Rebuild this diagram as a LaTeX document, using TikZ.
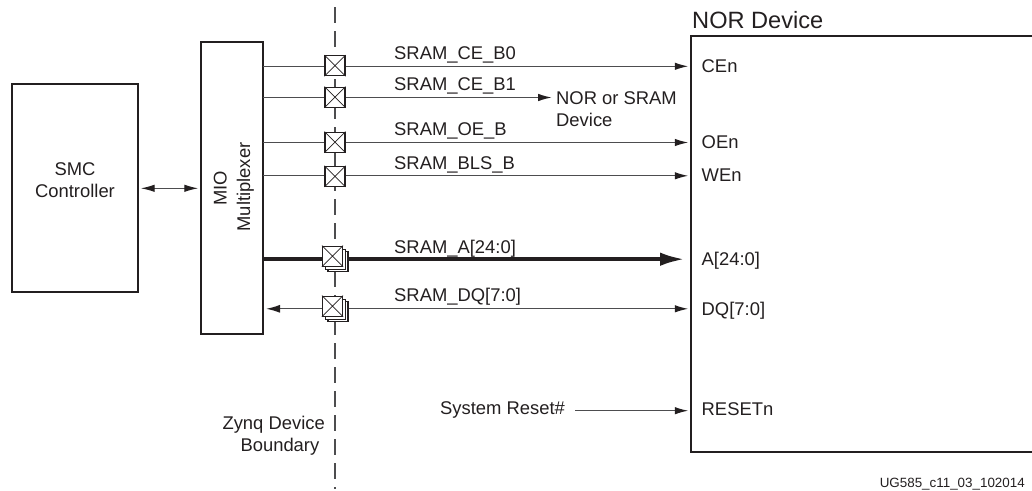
\documentclass[tikz,border=0pt]{standalone}
\usepackage{fontspec}
\setmainfont{Liberation Sans}
\usetikzlibrary{arrows.meta}
\definecolor{ink}{HTML}{231F20}
\definecolor{wire}{HTML}{4D4D4F}
\tikzset{
 x=1pt,y=-1pt,
 every node/.style={font=\fontsize{18.4}{22.5}\selectfont,text=ink,inner sep=0pt},
 blockbox/.style={draw=ink,line width=2pt,fill=white},
 sig/.style={draw=wire,line width=1.3pt},
 sigarrow/.style={sig,-{Latex[length=13.5pt,width=7.5pt,color=ink]}},
 dblarrow/.style={sig,{Latex[length=14pt,width=7.5pt,color=ink]}-{Latex[length=14pt,width=7.5pt,color=ink]}},
 busarrow/.style={draw=ink,line width=4pt,-{Latex[length=25pt,width=13.5pt,color=ink]}},
 boundary/.style={draw=wire,line width=1.3pt,dash pattern=on 16pt off 8pt},
 iobox/.style={draw=ink,line width=1.1pt,fill=white,minimum size=20pt},
 pinlabel/.style={anchor=base west},
 siglabel/.style={anchor=base west},
}
\newcommand{\iocell}[2]{%
 \node[iobox] (#1) at #2 {};
 \draw[draw=ink,line width=.7pt] (#1.north west) -- (#1.south east) (#1.north east) -- (#1.south west);
}
\newcommand{\iostack}[2]{%
 \begin{scope}[shift={#2}]
 \node[iobox] (#1c) at (5.5,5.5) {};
 \node[iobox] (#1b) at (3,3) {};
 \node[iobox] (#1) at (0,0) {};
 \draw[draw=ink,line width=.7pt] (#1.north west) -- (#1.south east) (#1.north east) -- (#1.south west);
 \end{scope}
}
\begin{document}
\begin{tikzpicture}
\useasboundingbox (0,0) rectangle (1032,490);
\coordinate (bt) at (335,7);
\coordinate (bb) at (335,489);
\draw[boundary] (bt) -- (bb);

\node[blockbox,minimum width=125.5pt,minimum height=208pt] (smc) at (74.75,188) {};
\node[anchor=base] at (75,175) {SMC};
\node[anchor=base] at (75,197.3) {Controller};
\node[blockbox,minimum width=62.5pt,minimum height=292pt] (mio) at (231.75,188) {};
\node[rotate=90,anchor=base] at (226.7,188.3) {MIO};
\node[rotate=90,anchor=base] at (250,187) {Multiplexer};
\coordinate (nne) at (1033,36);
\coordinate (nnw) at (690.7,36);
\coordinate (nsw) at (690.7,451.7);
\coordinate (nse) at (1033,451.7);
\draw[draw=ink,line width=2.2pt] (nne) -- (nnw) -- (nsw) -- (nse);
\node[anchor=base west,font=\fontsize{23.6}{26}\selectfont] at (692,28.3) {NOR Device};

\node[pinlabel] (cen) at (701.5,72) {CEn};
\node[pinlabel] (oen) at (701.5,148.3) {OEn};
\node[pinlabel] (wen) at (701.5,181.7) {WEn};
\node[pinlabel] (addr) at (701.5,265) {A[24:0]};
\node[pinlabel] (dq) at (701.5,315) {DQ[7:0]};
\node[pinlabel] (rst) at (701.5,415.7) {RESETn};

\coordinate (m1) at (263,66.3);
\coordinate (m2) at (263,97.5);
\coordinate (m3) at (263,142.5);
\coordinate (m4) at (263,175.8);
\coordinate (m5) at (263,259.2);
\coordinate (t1) at (688.3,66.3);
\coordinate (t2) at (551.7,97.5);
\coordinate (t3) at (688.3,142.5);
\coordinate (t4) at (688.3,175.8);
\coordinate (t5) at (685,259.2);
\coordinate (t6) at (688.3,308.8);
\coordinate (t6l) at (266,308.8);
\coordinate (s1) at (575,410.7);
\coordinate (t7) at (688.3,410.7);
\coordinate (al) at (140.7,188.3);
\coordinate (ar) at (198.3,188.3);

\draw[dblarrow] (al) -- (ar);
\draw[sigarrow] (m1) -- (t1);
\draw[sigarrow] (m2) -- (t2);
\draw[sigarrow] (m3) -- (t3);
\draw[sigarrow] (m4) -- (t4);
\draw[busarrow] (m5) -- (t5);
\draw[sig,{Latex[length=14pt,width=8pt,color=ink]}-{Latex[length=13.5pt,width=7.5pt,color=ink]}] (t6l) -- (t6);
\draw[sigarrow] (s1) -- (t7);

\iocell{c1}{(335,65.7)}
\iocell{c2}{(335,97.2)}
\iocell{c3}{(335,142.2)}
\iocell{c4}{(335,176.3)}
\iostack{c5}{(332.5,256.2)}
\iostack{c6}{(332.5,306.2)}

\node[siglabel] at (394,59) {SRAM\_CE\_B0};
\node[siglabel] at (394,90) {SRAM\_CE\_B1};
\node[siglabel] at (394,135) {SRAM\_OE\_B};
\node[siglabel] at (394,169.3) {SRAM\_BLS\_B};
\node[siglabel] at (394,253.3) {SRAM\_A[24:0]};
\node[siglabel] at (394,301.7) {SRAM\_DQ[7:0]};
\node[anchor=base west] at (556,104) {NOR or SRAM};
\node[anchor=base west] at (556,126.7) {Device};
\node[anchor=base west] at (440,414) {System Reset\#};
\node[anchor=base east] at (325,429.3) {Zynq Device};
\node[anchor=base east] at (319.5,451) {Boundary};
\node[anchor=base east,font=\fontsize{13.4}{15}\selectfont] at (1025,487) {UG585\_c11\_03\_102014};
\end{tikzpicture}
\end{document}
